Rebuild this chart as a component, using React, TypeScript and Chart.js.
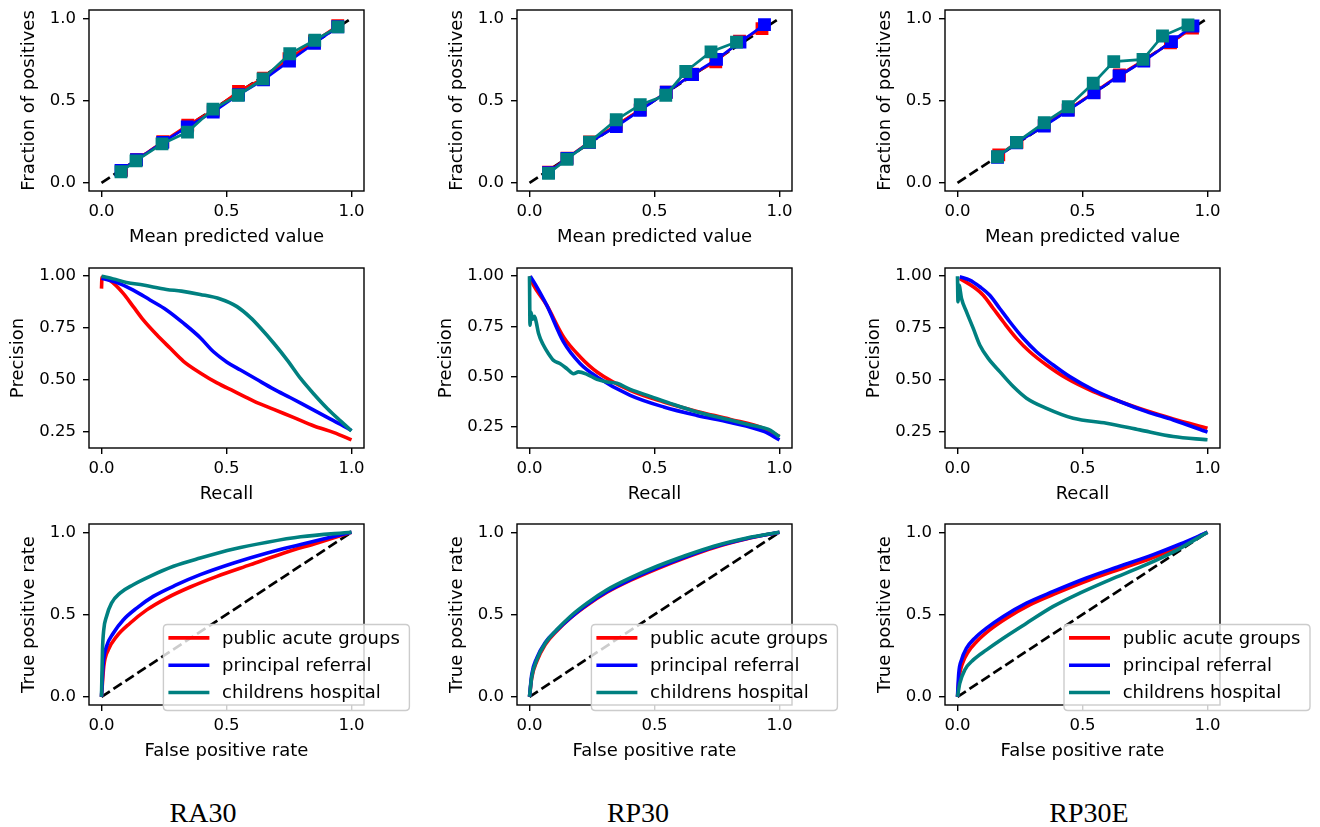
import React, { useEffect, useRef } from 'react';
import { Chart, registerables } from 'chart.js';

Chart.register(...registerables);
Chart.defaults.font.family = "'DejaVu Sans', sans-serif";
Chart.defaults.color = '#000';

// ---------- labels ----------
const seriesLabels = ['public acute groups', 'principal referral', 'childrens hospital'];
const captions = ['RA30', 'RP30', 'RP30E'];
const xTicks = [0, 0.5, 1.0];
const unitTicks = [0, 0.5, 1.0];
const prTicks = [0.25, 0.5, 0.75, 1.0];
const diagX = [0, 1];
const diagY = [0, 1];

// ---------- RA30 calibration ----------
const ra30CalRedX = [0.08, 0.14, 0.245, 0.345, 0.447, 0.548, 0.648, 0.75, 0.852, 0.945];
const ra30CalRedY = [0.075, 0.14, 0.25, 0.35, 0.44, 0.555, 0.635, 0.755, 0.86, 0.955];
const ra30CalBlueX = [0.078, 0.14, 0.245, 0.343, 0.447, 0.548, 0.648, 0.752, 0.852, 0.945];
const ra30CalBlueY = [0.075, 0.14, 0.245, 0.34, 0.43, 0.535, 0.625, 0.74, 0.848, 0.948];
const ra30CalTealX = [0.078, 0.138, 0.242, 0.344, 0.446, 0.547, 0.646, 0.753, 0.853, 0.946];
const ra30CalTealY = [0.067, 0.133, 0.236, 0.308, 0.448, 0.532, 0.631, 0.784, 0.866, 0.947];

// ---------- RP30 calibration ----------
const rp30CalRedX = [0.076, 0.15, 0.24, 0.347, 0.443, 0.547, 0.652, 0.745, 0.84, 0.93];
const rp30CalRedY = [0.065, 0.15, 0.248, 0.35, 0.445, 0.55, 0.66, 0.735, 0.86, 0.937];
const rp30CalBlueX = [0.076, 0.15, 0.24, 0.347, 0.443, 0.547, 0.652, 0.748, 0.842, 0.94];
const rp30CalBlueY = [0.062, 0.148, 0.245, 0.342, 0.44, 0.55, 0.658, 0.75, 0.855, 0.961];
const rp30CalTealX = [0.076, 0.15, 0.24, 0.347, 0.443, 0.545, 0.625, 0.726, 0.828];
const rp30CalTealY = [0.057, 0.143, 0.247, 0.383, 0.475, 0.532, 0.676, 0.796, 0.855];

// ---------- RP30E calibration ----------
const rp30eCalRedX = [0.165, 0.238, 0.347, 0.443, 0.546, 0.648, 0.745, 0.852, 0.94];
const rp30eCalRedY = [0.17, 0.245, 0.35, 0.445, 0.55, 0.655, 0.745, 0.85, 0.94];
const rp30eCalBlueX = [0.16, 0.236, 0.347, 0.443, 0.546, 0.646, 0.745, 0.856, 0.942];
const rp30eCalBlueY = [0.155, 0.243, 0.345, 0.44, 0.547, 0.649, 0.74, 0.858, 0.953];
const rp30eCalTealX = [0.16, 0.236, 0.347, 0.443, 0.543, 0.625, 0.742, 0.82, 0.922];
const rp30eCalTealY = [0.158, 0.246, 0.365, 0.462, 0.605, 0.736, 0.75, 0.892, 0.959];

// ---------- RA30 precision-recall ----------
const ra30PrRedX = [0, 0.002, 0.033, 0.087, 0.127, 0.167, 0.221, 0.274, 0.328, 0.395, 0.462, 0.529, 0.609, 0.689, 0.77, 0.85, 0.93, 1.0];
const ra30PrRedY = [0.94, 0.995, 0.98, 0.917, 0.853, 0.789, 0.717, 0.653, 0.589, 0.533, 0.485, 0.445, 0.397, 0.357, 0.317, 0.277, 0.245, 0.21];
const ra30PrBlueX = [0, 0.06, 0.127, 0.194, 0.26, 0.328, 0.395, 0.448, 0.502, 0.556, 0.622, 0.689, 0.756, 0.823, 0.89, 0.957, 1.0];
const ra30PrBlueY = [0.99, 0.97, 0.933, 0.885, 0.837, 0.773, 0.703, 0.635, 0.585, 0.547, 0.501, 0.455, 0.413, 0.37, 0.327, 0.284, 0.255];
const ra30PrTealX = [0, 0.047, 0.1, 0.167, 0.26, 0.32, 0.395, 0.475, 0.542, 0.596, 0.636, 0.69, 0.743, 0.797, 0.85, 0.904, 0.957, 1.0];
const ra30PrTealY = [1.0, 0.987, 0.97, 0.957, 0.936, 0.928, 0.912, 0.89, 0.853, 0.8, 0.75, 0.675, 0.595, 0.505, 0.43, 0.36, 0.3, 0.253];

// ---------- RP30 precision-recall ----------
const rp30PrRedX = [0, 0.016, 0.069, 0.136, 0.203, 0.27, 0.403, 0.537, 0.67, 0.804, 0.937, 1.0];
const rp30PrRedY = [1.0, 0.955, 0.855, 0.697, 0.597, 0.522, 0.43, 0.372, 0.325, 0.285, 0.24, 0.2];
const rp30PrBlueX = [0.003, 0.029, 0.069, 0.136, 0.203, 0.27, 0.403, 0.537, 0.67, 0.804, 0.937, 1.0];
const rp30PrBlueY = [1.0, 0.947, 0.855, 0.672, 0.563, 0.497, 0.405, 0.347, 0.305, 0.27, 0.225, 0.183];
const rp30PrTealX = [0, 0.002, 0.006, 0.012, 0.02, 0.027, 0.036, 0.056, 0.076, 0.096, 0.123, 0.15, 0.176, 0.196, 0.23, 0.27, 0.31, 0.35, 0.403, 0.483, 0.563, 0.67, 0.777, 0.884, 0.964, 1.0];
const rp30PrTealY = [1.0, 0.755, 0.82, 0.785, 0.8, 0.77, 0.715, 0.655, 0.613, 0.58, 0.563, 0.538, 0.513, 0.522, 0.51, 0.485, 0.472, 0.465, 0.435, 0.4, 0.365, 0.322, 0.29, 0.257, 0.23, 0.197];

// ---------- RP30E precision-recall ----------
const rp30ePrRedX = [0.009, 0.063, 0.103, 0.143, 0.183, 0.236, 0.289, 0.356, 0.436, 0.543, 0.649, 0.756, 0.863, 1.0];
const rp30ePrRedY = [0.989, 0.949, 0.908, 0.844, 0.78, 0.7, 0.635, 0.571, 0.507, 0.443, 0.395, 0.35, 0.311, 0.266];
const rp30ePrBlueX = [0.009, 0.049, 0.089, 0.129, 0.169, 0.209, 0.263, 0.316, 0.383, 0.449, 0.543, 0.649, 0.756, 0.863, 1.0];
const rp30ePrBlueY = [0.997, 0.981, 0.949, 0.908, 0.844, 0.78, 0.7, 0.635, 0.571, 0.515, 0.451, 0.395, 0.346, 0.306, 0.247];
const rp30ePrTealX = [0, 0.002, 0.006, 0.016, 0.036, 0.063, 0.089, 0.123, 0.169, 0.223, 0.276, 0.356, 0.463, 0.596, 0.729, 0.863, 1.0];
const rp30ePrTealY = [1.0, 0.876, 0.957, 0.892, 0.828, 0.748, 0.668, 0.603, 0.539, 0.467, 0.411, 0.362, 0.314, 0.29, 0.258, 0.226, 0.21];

// ---------- RA30 ROC ----------
const ra30RocRedX = [0, 0.009, 0.027, 0.06, 0.114, 0.181, 0.261, 0.355, 0.462, 0.596, 0.73, 0.863, 1.0];
const ra30RocRedY = [0, 0.183, 0.285, 0.366, 0.447, 0.528, 0.6, 0.667, 0.732, 0.803, 0.874, 0.935, 1.0];
const ra30RocBlueX = [0, 0.007, 0.02, 0.047, 0.087, 0.141, 0.207, 0.301, 0.395, 0.529, 0.663, 0.797, 1.0];
const ra30RocBlueY = [0, 0.203, 0.305, 0.386, 0.467, 0.539, 0.61, 0.681, 0.742, 0.813, 0.874, 0.925, 1.0];
const ra30RocTealX = [0, 0.004, 0.009, 0.02, 0.04, 0.074, 0.127, 0.194, 0.288, 0.395, 0.529, 0.663, 0.797, 1.0];
const ra30RocTealY = [0, 0.285, 0.407, 0.488, 0.569, 0.63, 0.681, 0.732, 0.793, 0.843, 0.898, 0.939, 0.972, 1.0];

// ---------- RP30 ROC ----------
const rp30RocRedX = [0, 0.009, 0.029, 0.063, 0.109, 0.163, 0.23, 0.31, 0.403, 0.51, 0.617, 0.737, 0.87, 1.0];
const rp30RocRedY = [0, 0.115, 0.215, 0.318, 0.4, 0.478, 0.556, 0.635, 0.707, 0.778, 0.842, 0.906, 0.96, 1.0];
const rp30RocBlueX = [0, 0.009, 0.029, 0.063, 0.109, 0.163, 0.23, 0.31, 0.403, 0.51, 0.617, 0.737, 0.87, 1.0];
const rp30RocBlueY = [0, 0.135, 0.235, 0.33, 0.405, 0.48, 0.56, 0.64, 0.712, 0.783, 0.846, 0.91, 0.962, 1.0];
const rp30RocTealX = [0, 0.009, 0.029, 0.063, 0.109, 0.163, 0.23, 0.31, 0.403, 0.51, 0.617, 0.737, 0.87, 1.0];
const rp30RocTealY = [0, 0.122, 0.224, 0.325, 0.407, 0.488, 0.569, 0.65, 0.722, 0.793, 0.854, 0.915, 0.965, 1.0];

// ---------- RP30E ROC ----------
const rp30eRocRedX = [0, 0.007, 0.02, 0.043, 0.076, 0.129, 0.196, 0.289, 0.396, 0.529, 0.663, 0.796, 0.903, 1.0];
const rp30eRocRedY = [0, 0.122, 0.203, 0.274, 0.335, 0.407, 0.478, 0.559, 0.63, 0.711, 0.783, 0.854, 0.925, 1.0];
const rp30eRocBlueX = [0, 0.005, 0.016, 0.036, 0.069, 0.116, 0.183, 0.276, 0.383, 0.516, 0.649, 0.783, 0.889, 1.0];
const rp30eRocBlueY = [0, 0.142, 0.224, 0.295, 0.356, 0.417, 0.488, 0.569, 0.64, 0.722, 0.793, 0.864, 0.927, 1.0];
const rp30eRocTealX = [0, 0.009, 0.029, 0.063, 0.116, 0.183, 0.276, 0.383, 0.489, 0.609, 0.743, 0.876, 1.0];
const rp30eRocTealY = [0, 0.081, 0.163, 0.224, 0.285, 0.356, 0.447, 0.549, 0.63, 0.711, 0.795, 0.89, 1.0];

// ---------- styles / layout ----------
const COLORS = ['#ff0000', '#0000ff', '#008080'];
const PLOT_LEFT = [89, 517, 945];
const PLOT_W = 275;
const PLOT_TOP = [10, 268, 524];
const PLOT_H = [181, 180, 181];
const Y_AXIS_W = 89;
const TOP_PAD = 10;
const CANVAS_W = 460;
const CANVAS_H = 260;
const LEGEND_RIGHT_OFF = [45.4, 45.4, 90];

type Series = [number[], number[]];
type Kind = 'cal' | 'pr' | 'roc';

const zip = (xs: number[], ys: number[]) => xs.map((x, i) => ({ x, y: ys[i] }));

const panels: { kind: Kind; col: number; series: Series[] }[] = [
  { kind: 'cal', col: 0, series: [[ra30CalRedX, ra30CalRedY], [ra30CalBlueX, ra30CalBlueY], [ra30CalTealX, ra30CalTealY]] },
  { kind: 'cal', col: 1, series: [[rp30CalRedX, rp30CalRedY], [rp30CalBlueX, rp30CalBlueY], [rp30CalTealX, rp30CalTealY]] },
  { kind: 'cal', col: 2, series: [[rp30eCalRedX, rp30eCalRedY], [rp30eCalBlueX, rp30eCalBlueY], [rp30eCalTealX, rp30eCalTealY]] },
  { kind: 'pr', col: 0, series: [[ra30PrRedX, ra30PrRedY], [ra30PrBlueX, ra30PrBlueY], [ra30PrTealX, ra30PrTealY]] },
  { kind: 'pr', col: 1, series: [[rp30PrRedX, rp30PrRedY], [rp30PrBlueX, rp30PrBlueY], [rp30PrTealX, rp30PrTealY]] },
  { kind: 'pr', col: 2, series: [[rp30ePrRedX, rp30ePrRedY], [rp30ePrBlueX, rp30ePrBlueY], [rp30ePrTealX, rp30ePrTealY]] },
  { kind: 'roc', col: 0, series: [[ra30RocRedX, ra30RocRedY], [ra30RocBlueX, ra30RocBlueY], [ra30RocTealX, ra30RocTealY]] },
  { kind: 'roc', col: 1, series: [[rp30RocRedX, rp30RocRedY], [rp30RocBlueX, rp30RocBlueY], [rp30RocTealX, rp30RocTealY]] },
  { kind: 'roc', col: 2, series: [[rp30eRocRedX, rp30eRocRedY], [rp30eRocBlueX, rp30eRocBlueY], [rp30eRocTealX, rp30eRocTealY]] },
];

const TITLES: Record<Kind, [string, string]> = {
  cal: ['Mean predicted value', 'Fraction of positives'],
  pr: ['Recall', 'Precision'],
  roc: ['False positive rate', 'True positive rate'],
};
const ROW: Record<Kind, number> = { cal: 0, pr: 1, roc: 2 };

// spines (axes frame) drawn above the data
const framePlugin = {
  id: 'frame',
  afterDatasetsDraw(chart: any) {
    const { ctx, chartArea: a } = chart;
    ctx.save();
    ctx.strokeStyle = '#000';
    ctx.lineWidth = 1.4;
    ctx.strokeRect(a.left, a.top, a.right - a.left, a.bottom - a.top);
    ctx.restore();
  },
};

// matplotlib-like framed legend
const boxLegendPlugin = {
  id: 'boxLegend',
  afterDraw(chart: any, _args: any, opts: any) {
    if (!opts || !opts.show) return;
    const { ctx, chartArea: a } = chart;
    const w = 246, h = 86;
    const lx = a.right + opts.rightOff - w;
    const ly = a.bottom + 5.5 - h;
    ctx.save();
    ctx.beginPath();
    const r = 4;
    ctx.moveTo(lx + r, ly);
    ctx.lineTo(lx + w - r, ly);
    ctx.quadraticCurveTo(lx + w, ly, lx + w, ly + r);
    ctx.lineTo(lx + w, ly + h - r);
    ctx.quadraticCurveTo(lx + w, ly + h, lx + w - r, ly + h);
    ctx.lineTo(lx + r, ly + h);
    ctx.quadraticCurveTo(lx, ly + h, lx, ly + h - r);
    ctx.lineTo(lx, ly + r);
    ctx.quadraticCurveTo(lx, ly, lx + r, ly);
    ctx.closePath();
    ctx.fillStyle = 'rgba(255,255,255,0.8)';
    ctx.fill();
    ctx.strokeStyle = '#cccccc';
    ctx.lineWidth = 1.4;
    ctx.stroke();
    const items = chart.data.datasets.filter((d: any) => d.label);
    items.forEach((d: any, i: number) => {
      const y = ly + 13.4 + i * 27.3;
      ctx.beginPath();
      ctx.strokeStyle = d.borderColor;
      ctx.lineWidth = 3.6;
      ctx.moveTo(lx + 5, y);
      ctx.lineTo(lx + 46, y);
      ctx.stroke();
      ctx.fillStyle = '#000';
      ctx.font = "18px 'DejaVu Sans', sans-serif";
      ctx.textBaseline = 'middle';
      ctx.textAlign = 'left';
      ctx.fillText(d.label, lx + 58.7, y + 1);
    });
    ctx.restore();
  },
};

function Panel({ spec }: { spec: (typeof panels)[number] }) {
  const ref = useRef<HTMLCanvasElement>(null);
  const row = ROW[spec.kind];
  const col = spec.col;
  const plotH = PLOT_H[row];

  useEffect(() => {
    if (!ref.current) return;
    const datasets: any[] = spec.series.map((s, i) => {
      const base: any = {
        label: seriesLabels[i],
        data: zip(s[0], s[1]),
        borderColor: COLORS[i],
        backgroundColor: COLORS[i],
        order: 3 - i,
      };
      if (spec.kind === 'cal') {
        return {
          ...base,
          borderWidth: 2.7,
          pointStyle: 'rect',
          pointRadius: 7.8,
          pointBorderWidth: 1.8,
          pointBackgroundColor: COLORS[i],
          pointBorderColor: COLORS[i],
          tension: 0,
        };
      }
      return { ...base, borderWidth: 3.6, pointRadius: 0, cubicInterpolationMode: 'monotone' };
    });
    if (spec.kind !== 'pr') {
      datasets.push({
        data: zip(diagX, diagY),
        borderColor: '#000',
        borderWidth: 2.7,
        borderDash: [10, 4.3],
        pointRadius: 0,
        order: 10,
      });
    }
    // matplotlib-style autoscale with 5% margins
    const allY = datasets.flatMap((d) => d.data.map((p: any) => p.y));
    const yLo = Math.min(...allY);
    const yHi = Math.max(...allY);
    const ym = (yHi - yLo) * 0.05;
    const yTickVals = spec.kind === 'pr' ? prTicks : unitTicks;
    const digits = spec.kind === 'pr' ? 2 : 1;
    const xAxisH = CANVAS_H - TOP_PAD - plotH;
    const [xTitle, yTitle] = TITLES[spec.kind];
    const zeroPad = (s: any) => {
      s.paddingLeft = 0; s.paddingRight = 0; s.paddingTop = 0; s.paddingBottom = 0;
    };

    const chart = new Chart(ref.current, {
      type: 'line',
      data: { datasets },
      plugins: [framePlugin, boxLegendPlugin],
      options: {
        responsive: false,
        maintainAspectRatio: false,
        animation: false,
        events: [],
        layout: {
          autoPadding: false,
          padding: { left: 0, top: TOP_PAD, right: CANVAS_W - Y_AXIS_W - PLOT_W, bottom: 0 },
        },
        plugins: {
          legend: { display: false },
          tooltip: { enabled: false },
          boxLegend: { show: spec.kind === 'roc', rightOff: LEGEND_RIGHT_OFF[col] },
        } as any,
        scales: {
          x: {
            type: 'linear',
            min: -0.05,
            max: 1.05,
            afterBuildTicks: (s: any) => { s.ticks = xTicks.map((v) => ({ value: v })); },
            afterFit: (s: any) => { s.height = xAxisH; zeroPad(s); },
            grid: { drawOnChartArea: false, drawTicks: true, tickLength: 6, color: '#000', lineWidth: 1.4 },
            border: { display: false },
            ticks: {
              padding: 5,
              maxRotation: 0,
              autoSkip: false,
              color: '#000',
              font: { size: 16.5 },
              callback: (v: any) => Number(v).toFixed(1),
            },
            title: {
              display: true,
              text: xTitle,
              color: '#000',
              font: { size: 18, lineHeight: 1.2 },
              padding: { top: 0, bottom: CANVAS_H - 10.8 - TOP_PAD - plotH - 46 },
            },
          },
          y: {
            type: 'linear',
            min: yLo - ym,
            max: yHi + ym,
            afterBuildTicks: (s: any) => { s.ticks = yTickVals.map((v) => ({ value: v })); },
            afterFit: (s: any) => { s.width = Y_AXIS_W; zeroPad(s); },
            grid: { drawOnChartArea: false, drawTicks: true, tickLength: 6, color: '#000', lineWidth: 1.4 },
            border: { display: false },
            ticks: {
              padding: 7,
              autoSkip: false,
              color: '#000',
              font: { size: 16.5 },
              callback: (v: any) => Number(v).toFixed(digits),
            },
            title: {
              display: true,
              text: yTitle,
              color: '#000',
              font: { size: 18, lineHeight: 1.2 },
              padding: { top: spec.kind === 'pr' ? 7.2 : 18.2, bottom: 0 },
            },
          },
        },
      } as any,
    });
    return () => chart.destroy();
  }, []);

  return (
    <canvas
      ref={ref}
      width={CANVAS_W}
      height={CANVAS_H}
      style={{
        position: 'absolute',
        left: PLOT_LEFT[col] - Y_AXIS_W,
        top: PLOT_TOP[row] - TOP_PAD,
        width: CANVAS_W,
        height: CANVAS_H,
      }}
    />
  );
}

const CAPTION_CX = [203, 638, 1089];

export default function App() {
  return (
    <div>
      {panels.map((p, i) => (
        <Panel key={i} spec={p} />
      ))}
      {captions.map((c, i) => (
        <div
          key={c}
          style={{
            position: 'absolute',
            left: CAPTION_CX[i] - 100,
            width: 200,
            top: 798.5,
            textAlign: 'center',
            fontFamily: "'Liberation Serif', 'Times New Roman', serif",
            fontSize: 28,
            lineHeight: 1,
            color: '#000',
          }}
        >
          {c}
        </div>
      ))}
    </div>
  );
}
